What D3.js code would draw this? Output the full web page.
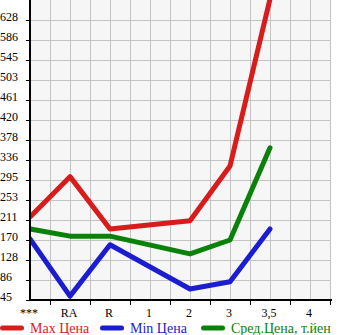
<!DOCTYPE html>
<html>
<head>
<meta charset="utf-8">
<script src="https://cdnjs.cloudflare.com/ajax/libs/d3/7.8.5/d3.min.js"></script>
<style>
  body { margin: 0; background: #fff; }
  svg { display: block; font-family: "Liberation Serif", "DejaVu Serif", serif; }
</style>
</head>
<body>
<script>
var w = 345,
    h = 335;

// Data
var categories = ['***', 'RA', 'R', '1', '2', '3', '3,5', '4'];
var maxVals = [218, 302, 193, null, 210, 324, 672, null];
var minVals = [172, 53, 160, null, 68, 83, 193, null];
var avgVals = [193, 178, 178, null, 141, 170, 362, null];
var yTickLabels = [45, 86, 128, 170, 211, 253, 295, 336, 378, 420, 461, 503, 545, 586, 628];
var seriesNames = ['Max Цена', 'Min Цена', 'Сред.Цена, т.йен'];
var seriesColors = ['#d81c1c', '#1c1cd0', '#0a820a'];

var plotLeft = 31, plotRight = 330, plotTop = 0, plotBottom = 300;

var svg = d3.select('body')
            .append('svg')
            .attr('width', w)
            .attr('height', h);

var x = d3.scalePoint()
          .domain(categories)
          .range([30, 310]);

var y = d3.scaleLinear()
          .domain([45, 670])
          .range([plotBottom, plotTop]);

// plot background
svg.append('rect')
   .attr('x', plotLeft)
   .attr('y', plotTop)
   .attr('width', plotRight - plotLeft)
   .attr('height', plotBottom - plotTop)
   .style('fill', '#f6f6f6');

// grid
var half = x.step() / 2;
var vGrid = [];
categories.forEach(function(c, i) {
  if (i > 0) vGrid.push(x(c));
  vGrid.push(x(c) + half);
});

svg.append('g')
   .selectAll('line')
   .data(vGrid)
   .enter()
   .append('line')
   .attr('x1', function(d) { return d + 0.5; })
   .attr('x2', function(d) { return d + 0.5; })
   .attr('y1', plotTop)
   .attr('y2', plotBottom)
   .style('stroke', '#c4c4c4')
   .style('stroke-width', 1);

svg.append('g')
   .selectAll('line')
   .data(yTickLabels.slice(1))
   .enter()
   .append('line')
   .attr('x1', plotLeft)
   .attr('x2', plotRight)
   .attr('y1', function(d) { return Math.round(y(d)) + 0.5; })
   .attr('y2', function(d) { return Math.round(y(d)) + 0.5; })
   .style('stroke', '#c4c4c4')
   .style('stroke-width', 1);

// clip for series
svg.append('clipPath')
   .attr('id', 'plot')
   .append('rect')
   .attr('x', plotLeft)
   .attr('y', plotTop)
   .attr('width', plotRight - plotLeft)
   .attr('height', plotBottom - plotTop);

var line = d3.line()
             .x(function(d) { return x(d.cat); })
             .y(function(d) { return y(d.v); });

var allSeries = [maxVals, minVals, avgVals];

allSeries.forEach(function(vals, k) {
  // skip missing categories, lines connect across them
  var pts = [];
  vals.forEach(function(v, i) {
    if (v !== null) pts.push({ cat: categories[i], v: v });
  });
  svg.append('path')
     .attr('clip-path', 'url(#plot)')
     .attr('d', line(pts))
     .style('fill', 'none')
     .style('stroke', seriesColors[k])
     .style('stroke-width', 5)
     .style('stroke-linecap', 'round')
     .style('stroke-linejoin', 'round');
});

// axes
svg.append('line')
   .attr('x1', 30).attr('x2', 30)
   .attr('y1', plotTop).attr('y2', plotBottom + 1)
   .style('stroke', '#000')
   .style('stroke-width', 2);

svg.append('line')
   .attr('x1', 29).attr('x2', 332)
   .attr('y1', 300).attr('y2', 300)
   .style('stroke', '#000')
   .style('stroke-width', 2);

// left ticks + labels
var yAxis = svg.append('g');
yAxis.selectAll('line')
     .data(yTickLabels)
     .enter()
     .append('line')
     .attr('x1', 26)
     .attr('x2', 30)
     .attr('y1', function(d) { return Math.round(y(d)) + 0.5; })
     .attr('y2', function(d) { return Math.round(y(d)) + 0.5; })
     .style('stroke', '#000');

yAxis.selectAll('text')
     .data(yTickLabels)
     .enter()
     .append('text')
     .attr('x', 0)
     .attr('y', function(d) { return Math.round(y(d)) + 1; })
     .style('font-size', '12px')
     .style('fill', '#000')
     .text(function(d) { return d; });

// bottom ticks + labels
var xAxis = svg.append('g');
xAxis.selectAll('line')
     .data(categories)
     .enter()
     .append('line')
     .attr('x1', function(d) { return x(d) + half + 0.5; })
     .attr('x2', function(d) { return x(d) + half + 0.5; })
     .attr('y1', 300)
     .attr('y2', 305)
     .style('stroke', '#000');

xAxis.selectAll('text')
     .data(categories)
     .enter()
     .append('text')
     .attr('x', function(d) { return x(d) - 1; })
     .attr('y', 317)
     .attr('text-anchor', 'middle')
     .style('font-size', '12px')
     .style('fill', '#000')
     .text(function(d) { return d; });

// legend
var legendX = [0, 100, 201];
var legend = svg.append('g');
seriesNames.forEach(function(name, k) {
  legend.append('line')
        .attr('x1', legendX[k] + 2.5)
        .attr('x2', legendX[k] + 21.5)
        .attr('y1', 328)
        .attr('y2', 328)
        .style('stroke', seriesColors[k])
        .style('stroke-width', 5)
        .style('stroke-linecap', 'round');
  legend.append('text')
        .attr('x', legendX[k] + 30)
        .attr('y', 333)
        .style('font-size', '14px')
        .style('fill', seriesColors[k])
        .text(name);
});
</script>
</body>
</html>
